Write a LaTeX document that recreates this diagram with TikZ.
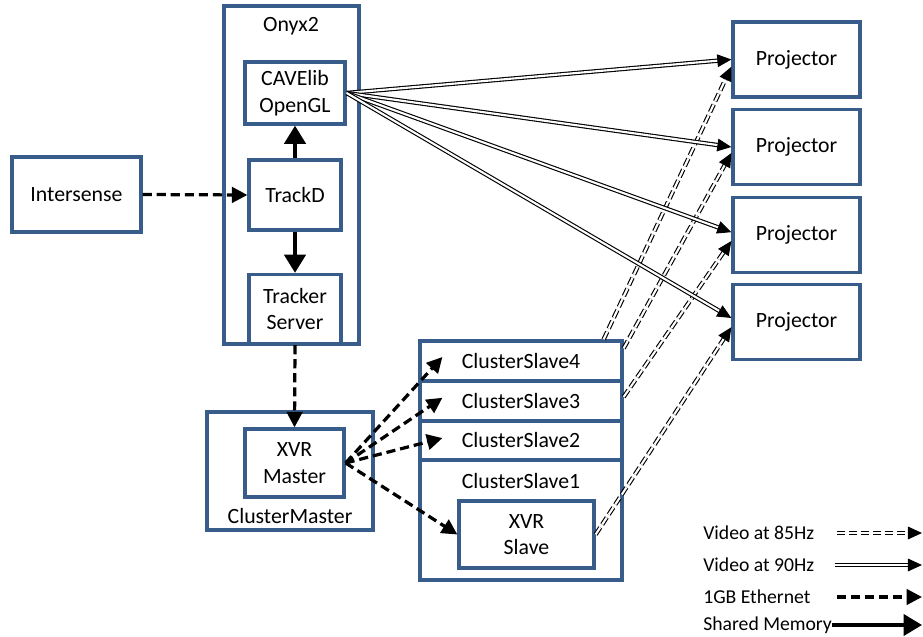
\documentclass[tikz,border=0pt]{standalone}
\usepackage{fontspec}
\setmainfont{Carlito}
\usetikzlibrary{arrows.meta,calc}
\definecolor{boxblue}{RGB}{56,93,138}

\begin{document}
\begin{tikzpicture}[font=\fontsize{15.5}{19}\selectfont]
    \tikzstyle{box} = [draw=boxblue, line width=2.3pt, fill=white, inner sep=0pt, align=center]
    \tikzstyle{ether} = [line width=2.3pt, dash pattern=on 6.5pt off 3.5pt, -{Triangle[length=11pt,width=11pt]}]
    \tikzstyle{shmem} = [line width=3pt, -{Triangle[length=13pt,width=15pt]}]
    \tikzstyle{vidninety} = [double, line width=0.8pt, double distance=1.5pt, -{Triangle[length=10pt,width=9pt]}]
    \tikzstyle{videightyfive} = [vidninety, dash pattern=on 6pt off 2.5pt]
    \tikzstyle{legtext} = [anchor=west, inner sep=0pt, font=\fontsize{14}{16}\selectfont]
    \useasboundingbox (0,0) rectangle (23.075,15.9);
    % Onyx2 and what runs on it
    \node[box, minimum width=3.375cm, minimum height=8.45cm] (onyx) at (7.2875,11.525) {};
    \node (onyxlbl) at (7.275,15.25) {Onyx2};
    \node[box, minimum width=2.5cm, minimum height=1.55cm] (cave) at (7.375,13.575) {CAVElib\\OpenGL};
    \node[box, minimum width=2.3cm, minimum height=1.75cm] (trackd) at (7.375,11.025) {TrackD};
    \node[box, minimum width=2.3cm, minimum height=1.725cm] (tracker) at (7.375,8.175) {Tracker\\Server};
    \node[box, minimum width=3.225cm, minimum height=1.875cm] (intersense) at (1.9125,11.0375) {Intersense};
    % cluster master
    \node[box, minimum width=4.15cm, minimum height=2.95cm] (cmaster) at (7.25,4.125) {};
    \node[box, minimum width=2.475cm, minimum height=1.7cm] (xvrm) at (7.3625,4.325) {XVR\\Master};
    \node (cmasterlbl) at (7.25,3.0) {ClusterMaster};
    % cluster slaves
    \node[box, minimum width=5.05cm, minimum height=1.0cm] (s4) at (13.025,6.875) {ClusterSlave4};
    \node[box, minimum width=5.05cm, minimum height=1.0cm] (s3) at (13.025,5.875) {ClusterSlave3};
    \node[box, minimum width=5.05cm, minimum height=0.975cm] (s2) at (13.025,4.8875) {ClusterSlave2};
    \node[box, minimum width=5.05cm, minimum height=3.0cm] (s1) at (13.025,2.9) {};
    \node (s1lbl) at (13.025,3.875) {ClusterSlave1};
    \node[box, minimum width=3.375cm, minimum height=1.675cm] (xvrs) at (13.1625,2.5375) {XVR\\Slave};
    % projectors
    \node[box, minimum width=3.175cm, minimum height=1.875cm] (p1) at (19.9125,14.4125) {Projector};
    \node[box, minimum width=3.175cm, minimum height=1.875cm] (p2) at (19.9125,12.225) {Projector};
    \node[box, minimum width=3.175cm, minimum height=1.875cm] (p3) at (19.9125,10.025) {Projector};
    \node[box, minimum width=3.175cm, minimum height=1.875cm] (p4) at (19.9125,7.85) {Projector};
    % links
    \draw[ether] (intersense.east) -- (trackd.west);
    \draw[shmem] (trackd.north) -- (cave.south);
    \draw[shmem] (trackd.south) -- (tracker.north);
    \draw[ether] (tracker.south) -- (xvrm.north);
    \draw[ether] (xvrm.east) -- ($(s4.west)+(0.6,0.1)$);
    \draw[ether] (xvrm.east) -- ($(s3.west)+(0.6,0.08)$);
    \draw[ether] (xvrm.east) -- ($(s2.west)+(0.6,0.06)$);
    \draw[ether] (xvrm.east) -- (xvrs.west);
    \draw[videightyfive] ($(s4.north east)+(-0.5,0)$) -- ($(p1.west)+(0,-0.18)$);
    \draw[videightyfive] ($(s4.north east)+(0,-0.225)$) -- ($(p2.west)+(0,-0.15)$);
    \draw[videightyfive] ($(s3.east)+(0,0.1)$) -- ($(p3.west)+(0,-0.15)$);
    \draw[videightyfive] (xvrs.east) -- ($(p4.west)+(0,-0.13)$);
    \draw[vidninety] (cave.east) -- (p1.west);
    \draw[vidninety] (cave.east) -- (p2.west);
    \draw[vidninety] (cave.east) -- ($(p3.west)+(0,0.07)$);
    \draw[vidninety] (cave.east) -- ($(p4.west)+(0,0.1)$);
    % legend
    \node[legtext] (leg85) at (17.575,2.575) {Video at 85Hz};
    \node[legtext] (leg90) at (17.575,1.775) {Video at 90Hz};
    \node[legtext] (legeth) at (17.575,0.975) {1GB Ethernet};
    \node[legtext] (legmem) at (17.575,0.275) {Shared Memory};
    \coordinate (leg85a) at (20.925,2.575);
    \coordinate (leg85b) at (23.05,2.575);
    \coordinate (leg90a) at (20.875,1.775);
    \coordinate (leg90b) at (23.05,1.775);
    \coordinate (legetha) at (20.925,0.975);
    \coordinate (legethb) at (23.05,0.975);
    \draw[videightyfive] (leg85a) -- (leg85b);
    \draw[vidninety] (leg90a) -- (leg90b);
    \draw[ether] (legetha) -- (legethb);
    \draw[shmem, line width=2.3pt] (legmem.east) -- (legethb |- legmem.east);
\end{tikzpicture}
\end{document}
